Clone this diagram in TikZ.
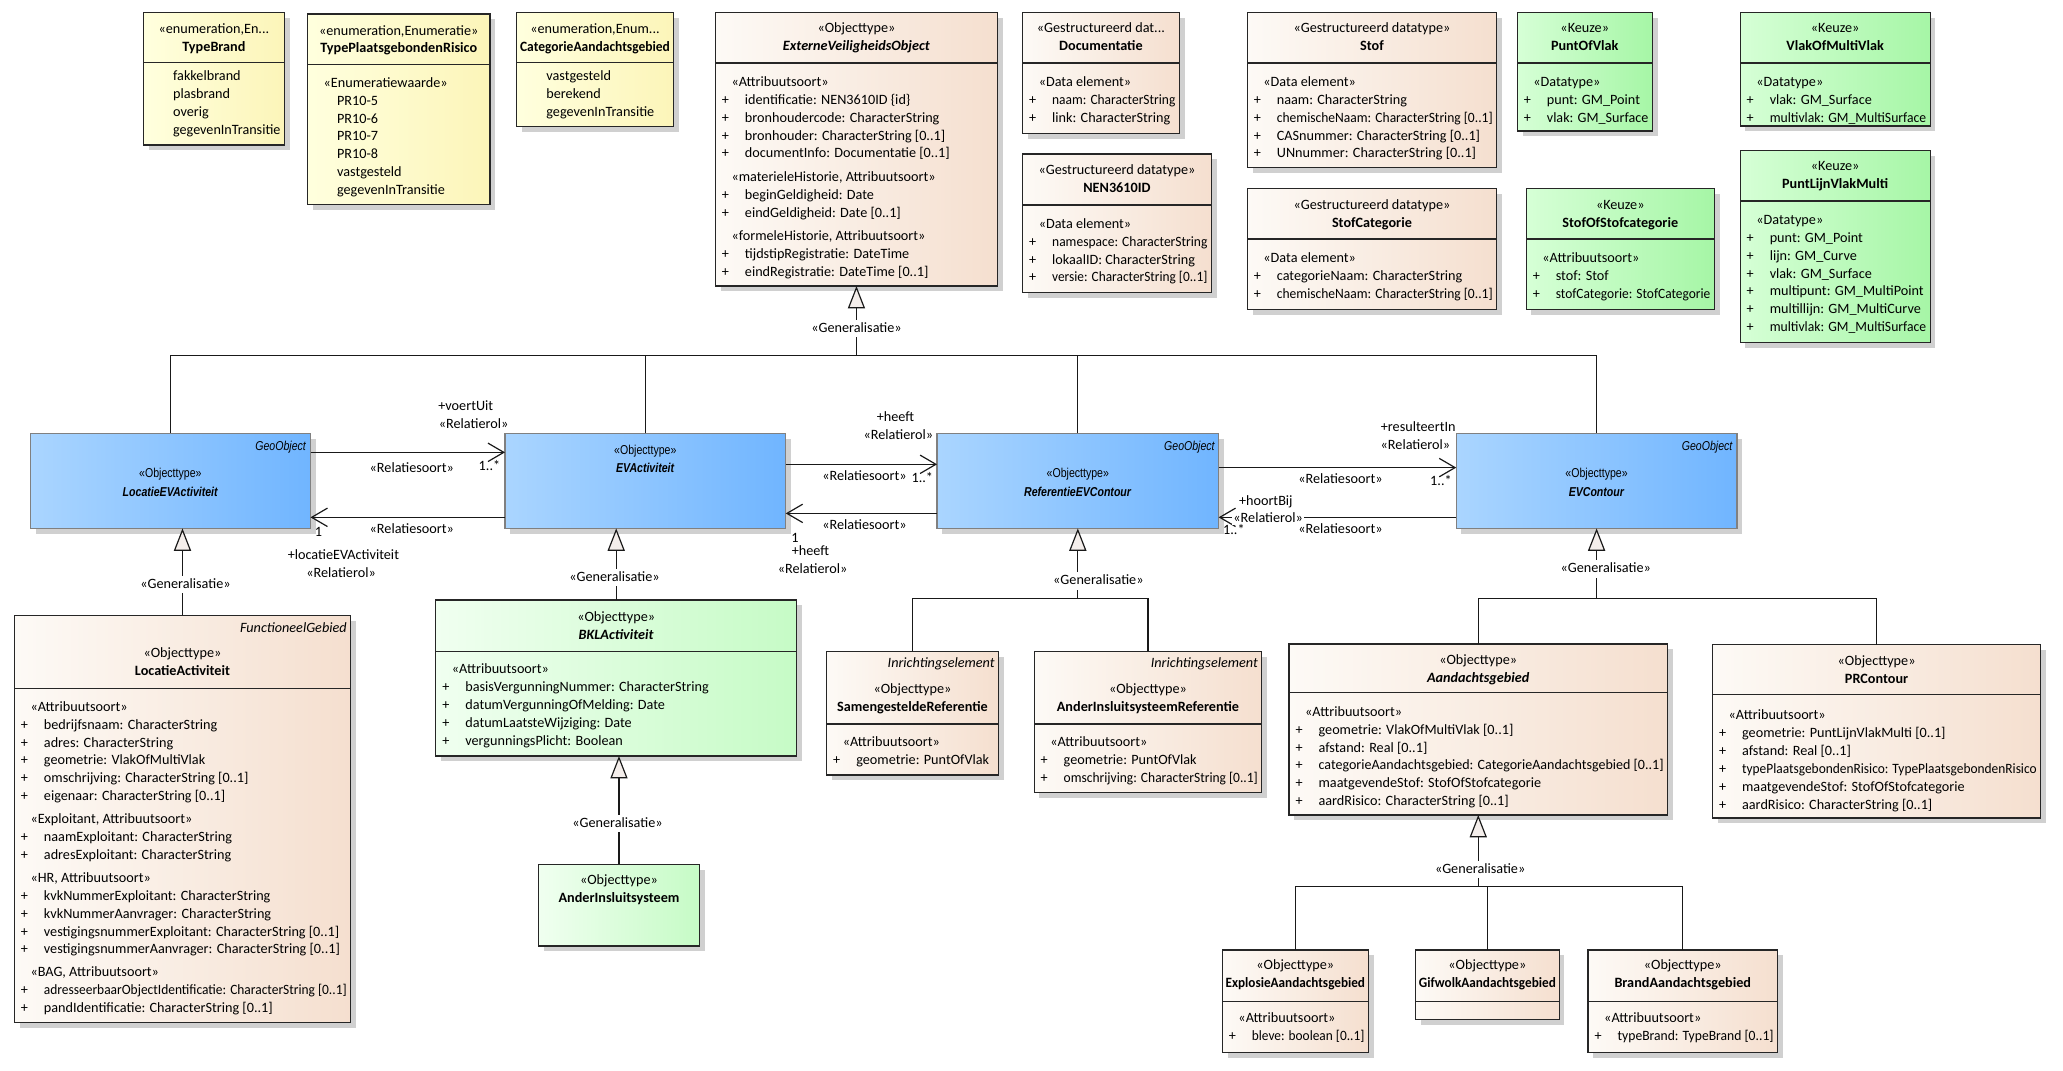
\documentclass[tikz,border=0pt]{standalone}
\usepackage{fontspec}
\setmainfont{Carlito}
\newfontfamily\narrowfont[FakeStretch=0.82]{Liberation Sans}
\usepackage{graphicx}
\usetikzlibrary{arrows.meta}

\definecolor{ylL}{RGB}{255,255,222}
\definecolor{ylR}{RGB}{252,245,185}
\definecolor{peL}{RGB}{253,250,246}
\definecolor{peR}{RGB}{245,223,207}
\definecolor{blL}{RGB}{170,213,255}
\definecolor{blR}{RGB}{112,181,255}
\definecolor{gkL}{RGB}{214,255,214}
\definecolor{gkR}{RGB}{166,246,166}
\definecolor{glL}{RGB}{240,255,240}
\definecolor{glR}{RGB}{198,251,198}
\definecolor{genfill}{RGB}{244,238,235}
\definecolor{shadowc}{RGB}{208,208,208}

\newcommand\fsz{\fontsize{10.8}{13.6}\selectfont}
\newcommand\bfsz{\narrowfont\fontsize{9.8}{14}\selectfont}
\newsavebox\fitbx
\newlength\fitw
\newlength\avail
\newcommand\fitto[2]{\setlength\fitw{#1}\sbox\fitbx{#2}\ifdim\wd\fitbx>\fitw\resizebox{\fitw}{\height}{\usebox\fitbx}\else\usebox\fitbx\fi}
\newcommand\uPl[1]{\makebox[17.5pt][l]{+}\fitto{\dimexpr\avail-17.5pt\relax}{#1}}
\newcommand\uSt[1]{\hspace*{7.3pt}\fitto{\dimexpr\avail-7.3pt\relax}{#1}}
\newcommand\uEv[1]{\hspace*{17.5pt}\fitto{\dimexpr\avail-17.5pt\relax}{#1}}
\newcommand\uHl[1]{\fitto{\avail}{#1}}

\tikzset{
  box/.style={draw=black!85, line width=0.9pt, inner sep=0pt, outer sep=0pt},
  yel/.style={box, left color=ylL, right color=ylR},
  pea/.style={box, left color=peL, right color=peR},
  blu/.style={draw=black!50, line width=0.9pt, inner sep=0pt, outer sep=0pt, left color=blL, right color=blR},
  grk/.style={box, left color=gkL, right color=gkR},
  grl/.style={box, left color=glL, right color=glR},
  sepline/.style={draw=black!85, line width=0.9pt},
  hdrtxt/.style={inner sep=0pt, outer sep=0pt, font=\fsz, align=center, anchor=north},
  cmptxt/.style={inner sep=0pt, outer sep=0pt, font=\fsz, align=left, anchor=north west},
  tagtxt/.style={inner sep=0pt, outer sep=0pt, font=\fsz, anchor=north east},
  bluetxt/.style={inner sep=0pt, outer sep=0pt, font=\bfsz, align=center, anchor=north},
  bluetag/.style={inner sep=0pt, outer sep=0pt, font=\bfsz, anchor=north east},
  lbl/.style={font=\fsz, inner sep=0pt, outer sep=0pt, text height=7.5pt, text depth=1.5pt},
  lblw/.style={lbl, fill=white, inner xsep=1pt},
  genlbl/.style={lbl, fill=white, inner xsep=1pt, inner ysep=2pt},
  conn/.style={line width=0.9pt, draw=black!90},
  assoc/.style={conn, -{Straight Barb[length=12pt,width=14pt]}},
  gen/.style={conn, -{Triangle[length=17pt,width=13pt,fill=genfill]}}
}

\newcommand\uCls[7]{%
  \fill[shadowc] ({#3+4},{#4+4}) rectangle ({#5+4},{#6+4});
  \node[#2, anchor=north west, minimum width={(#5-#3)*1pt}, minimum height={(#6-#4)*1pt}] (#1) at (#3,#4) {};
  \ifx\relax#7\relax\else\draw[sepline] (#3,#7) -- (#5,#7);\fi}
\newcommand\uHdr[5]{%
  \setlength\avail{\dimexpr #3pt-#2pt-5pt\relax}%
  \node[hdrtxt] (#1) at ({(#2+#3)/2},{#4-6.5}) {\strut #5};}
\newcommand\uCmp[5]{%
  \setlength\avail{\dimexpr #3pt-#2pt-8pt\relax}%
  \node[cmptxt] (#1) at ({#2+5},{#4-6.5}) {\strut #5};}
\newcommand\uTag[4]{\node[tagtxt] (#1) at (#2,{#3-6.5}) {\strut\textit{#4}};}

\begin{document}
\begin{tikzpicture}[x=1pt,y=-1pt]
\path[use as bounding box, fill=white] (0,0) rectangle (1568,814);

% ---------------- top row ----------------
\uCls{tb}{yel}{109.1}{9.6}{216.1}{110.2}{47.6}
\uHdr{tbh}{109.1}{216.1}{22.3}{\uHl{«enumeration,En...}\\\uHl{\textbf{TypeBrand}}}
\uCmp{tbc}{109.1}{216.1}{58.3}{\uEv{fakkelbrand}\\\uEv{plasbrand}\\\uEv{overig}\\\uEv{gegevenInTransitie}}

\uCls{tpr}{yel}{233.7}{10.6}{372.4}{155.3}{48.9}
\uHdr{tprh}{233.7}{372.4}{23.6}{\uHl{«enumeration,Enumeratie»}\\\uHl{\textbf{TypePlaatsgebondenRisico}}}
\uCmp{tprc}{233.7}{372.4}{63.3}{\uSt{«Enumeratiewaarde»}\\\uEv{PR10-5}\\\uEv{PR10-6}\\\uEv{PR10-7}\\\uEv{PR10-8}\\\uEv{vastgesteld}\\\uEv{gegevenInTransitie}}

\uCls{cat}{yel}{392.8}{9.6}{511.7}{96.3}{47.6}
\uHdr{cath}{392.8}{511.7}{22.3}{\uHl{«enumeration,Enum...}\\\uHl{\textbf{CategorieAandachtsgebied}}}
\uCmp{catc}{392.8}{511.7}{58.3}{\uEv{vastgesteld}\\\uEv{berekend}\\\uEv{gegevenInTransitie}}

\uCls{evo}{pea}{543.7}{9.4}{758.2}{217.4}{47.9}
\uHdr{evoh}{543.7}{758.2}{21.5}{\uHl{«Objecttype»}\\\uHl{\textbf{\textit{ExterneVeiligheidsObject}}}}
\uCmp{evoc}{543.7}{758.2}{62.6}{\uSt{«Attribuutsoort»}\\
\uPl{identificatie: NEN3610ID \{id\}}\\
\uPl{bronhoudercode: CharacterString}\\
\uPl{bronhouder: CharacterString [0..1]}\\
\uPl{documentInfo: Documentatie [0..1]}\\[4.2pt]
\uSt{«materieleHistorie, Attribuutsoort»}\\
\uPl{beginGeldigheid: Date}\\
\uPl{eindGeldigheid: Date [0..1]}\\[4.2pt]
\uSt{«formeleHistorie, Attribuutsoort»}\\
\uPl{tijdstipRegistratie: DateTime}\\
\uPl{eindRegistratie: DateTime [0..1]}}

\uCls{doc}{pea}{777.2}{9.4}{896.3}{101.3}{47.9}
\uHdr{doch}{777.2}{896.3}{21.5}{\uHl{«Gestructureerd dat...}\\\uHl{\textbf{Documentatie}}}
\uCmp{docc}{777.2}{896.3}{62.6}{\uSt{«Data element»}\\\uPl{naam: CharacterString}\\\uPl{link: CharacterString}}

\uCls{nen}{pea}{777.2}{117}{920.7}{222.2}{155.8}
\uHdr{nenh}{777.2}{920.7}{129.5}{\uHl{«Gestructureerd datatype»}\\\uHl{\textbf{NEN3610ID}}}
\uCmp{nenc}{777.2}{920.7}{170.5}{\uSt{«Data element»}\\\uPl{namespace: CharacterString}\\\uPl{lokaalID: CharacterString}\\\uPl{versie: CharacterString [0..1]}}

\uCls{stof}{pea}{948}{9.4}{1137.5}{127.4}{47.9}
\uHdr{stofh}{948}{1137.5}{21.5}{\uHl{«Gestructureerd datatype»}\\\uHl{\textbf{Stof}}}
\uCmp{stofc}{948}{1137.5}{62.6}{\uSt{«Data element»}\\\uPl{naam: CharacterString}\\\uPl{chemischeNaam: CharacterString [0..1]}\\\uPl{CASnummer: CharacterString [0..1]}\\\uPl{UNnummer: CharacterString [0..1]}}

\uCls{stc}{pea}{948}{143.4}{1137.5}{235.1}{181.6}
\uHdr{stch}{948}{1137.5}{156}{\uHl{«Gestructureerd datatype»}\\\uHl{\textbf{StofCategorie}}}
\uCmp{stcc}{948}{1137.5}{196.3}{\uSt{«Data element»}\\\uPl{categorieNaam: CharacterString}\\\uPl{chemischeNaam: CharacterString [0..1]}}

\uCls{pov}{grk}{1153.2}{9.4}{1255.8}{99.6}{47.9}
\uHdr{povh}{1153.2}{1255.8}{21.5}{\uHl{«Keuze»}\\\uHl{\textbf{PuntOfVlak}}}
\uCmp{povc}{1153.2}{1255.8}{62.6}{\uSt{«Datatype»}\\\uPl{punt: GM\_Point}\\\uPl{vlak: GM\_Surface}}

\uCls{sos}{grk}{1160}{143.4}{1303}{235.1}{181.6}
\uHdr{sosh}{1160}{1303}{156}{\uHl{«Keuze»}\\\uHl{\textbf{StofOfStofcategorie}}}
\uCmp{sosc}{1160}{1303}{196.3}{\uSt{«Attribuutsoort»}\\\uPl{stof: Stof}\\\uPl{stofCategorie: StofCategorie}}

\uCls{vomv}{grk}{1322.6}{9.4}{1467}{95.8}{47.9}
\uHdr{vomvh}{1322.6}{1467}{21.5}{\uHl{«Keuze»}\\\uHl{\textbf{VlakOfMultiVlak}}}
\uCmp{vomvc}{1322.6}{1467}{62.6}{\uSt{«Datatype»}\\\uPl{vlak: GM\_Surface}\\\uPl{multivlak: GM\_MultiSurface}}

\uCls{plvm}{grk}{1322.6}{114.3}{1467}{260.2}{152.8}
\uHdr{plvmh}{1322.6}{1467}{126.4}{\uHl{«Keuze»}\\\uHl{\textbf{PuntLijnVlakMulti}}}
\uCmp{plvmc}{1322.6}{1467}{167.5}{\uSt{«Datatype»}\\\uPl{punt: GM\_Point}\\\uPl{lijn: GM\_Curve}\\\uPl{vlak: GM\_Surface}\\\uPl{multipunt: GM\_MultiPoint}\\\uPl{multillijn: GM\_MultiCurve}\\\uPl{multivlak: GM\_MultiSurface}}

% ---------------- blue row ----------------
\uCls{locev}{blu}{23.1}{329.4}{236}{401.6}{}
\node[bluetag] (locevt) at (232.8,{339.5-6.8}) {\strut\textit{GeoObject}};
\node[bluetxt] (locevh) at (129.5,{360.3-6.8}) {\strut «Objecttype»\\\textbf{\textit{LocatieEVActiviteit}}};

\uCls{evact}{blu}{383.8}{329.4}{597.2}{401.6}{}
\node[bluetxt] (evacth) at (490.5,{342.5-6.8}) {\strut «Objecttype»\\\textbf{\textit{EVActiviteit}}};

\uCls{refev}{blu}{712.2}{329.4}{926.2}{401.6}{}
\node[bluetag] (refevt) at (923.5,{339.5-6.8}) {\strut\textit{GeoObject}};
\node[bluetxt] (refevh) at (819.2,{360.3-6.8}) {\strut «Objecttype»\\\textbf{\textit{ReferentieEVContour}}};

\uCls{evcont}{blu}{1106.8}{329.4}{1320.2}{401.6}{}
\node[bluetag] (evcontt) at (1317,{339.5-6.8}) {\strut\textit{GeoObject}};
\node[bluetxt] (evconth) at (1213.5,{360.3-6.8}) {\strut «Objecttype»\\\textbf{\textit{EVContour}}};

% ---------------- bottom ----------------
\uCls{locact}{pea}{10.9}{467.7}{266.5}{777}{523.2}
\uTag{locactt}{263.5}{477.6}{FunctioneelGebied}
\uHdr{locacth}{10.9}{266.5}{496.6}{\uHl{«Objecttype»}\\\uHl{\textbf{LocatieActiviteit}}}
\uCmp{locactc}{10.9}{266.5}{537.6}{\uSt{«Attribuutsoort»}\\
\uPl{bedrijfsnaam: CharacterString}\\
\uPl{adres: CharacterString}\\
\uPl{geometrie: VlakOfMultiVlak}\\
\uPl{omschrijving: CharacterString [0..1]}\\
\uPl{eigenaar: CharacterString [0..1]}\\[3.8pt]
\uSt{«Exploitant, Attribuutsoort»}\\
\uPl{naamExploitant: CharacterString}\\
\uPl{adresExploitant: CharacterString}\\[3.8pt]
\uSt{«HR, Attribuutsoort»}\\
\uPl{kvkNummerExploitant: CharacterString}\\
\uPl{kvkNummerAanvrager: CharacterString}\\
\uPl{vestigingsnummerExploitant: CharacterString [0..1]}\\
\uPl{vestigingsnummerAanvrager: CharacterString [0..1]}\\[3.8pt]
\uSt{«BAG, Attribuutsoort»}\\
\uPl{adresseerbaarObjectIdentificatie: CharacterString [0..1]}\\
\uPl{pandIdentificatie: CharacterString [0..1]}}

\uCls{bkl}{grl}{331.2}{456}{605.5}{574.6}{495}
\uHdr{bklh}{331.2}{605.5}{469.2}{\uHl{«Objecttype»}\\\uHl{\textbf{\textit{BKLActiviteit}}}}
\uCmp{bklc}{331.2}{605.5}{509.2}{\uSt{«Attribuutsoort»}\\\uPl{basisVergunningNummer: CharacterString}\\\uPl{datumVergunningOfMelding: Date}\\\uPl{datumLaatsteWijziging: Date}\\\uPl{vergunningsPlicht: Boolean}}

\uCls{ander}{grl}{409.4}{657}{531.5}{719}{}
\uHdr{anderh}{409.4}{531.5}{669.4}{\uHl{«Objecttype»}\\\uHl{\textbf{AnderInsluitsysteem}}}

\uCls{samen}{pea}{628.3}{495}{758.8}{589}{550.3}
\uTag{sament}{756}{504}{Inrichtingselement}
\uHdr{samenh}{628.3}{758.8}{523.9}{\uHl{«Objecttype»}\\\uHl{\textbf{SamengesteldeReferentie}}}
\uCmp{samenc}{628.3}{758.8}{564.5}{\uSt{«Attribuutsoort»}\\\uPl{geometrie: PuntOfVlak}}

\uCls{aref}{pea}{786}{495}{959}{602.5}{550.3}
\uTag{areft}{956}{504}{Inrichtingselement}
\uHdr{arefh}{786}{959}{523.9}{\uHl{«Objecttype»}\\\uHl{\textbf{AnderInsluitsysteemReferentie}}}
\uCmp{arefc}{786}{959}{564.5}{\uSt{«Attribuutsoort»}\\\uPl{geometrie: PuntOfVlak}\\\uPl{omschrijving: CharacterString [0..1]}}

\uCls{aand}{pea}{979.7}{489.5}{1267.4}{619.4}{526.5}
\uHdr{aandh}{979.7}{1267.4}{502}{\uHl{«Objecttype»}\\\uHl{\textbf{\textit{Aandachtsgebied}}}}
\uCmp{aandc}{979.7}{1267.4}{541.4}{\uSt{«Attribuutsoort»}\\\uPl{geometrie: VlakOfMultiVlak [0..1]}\\\uPl{afstand: Real [0..1]}\\\uPl{categorieAandachtsgebied: CategorieAandachtsgebied [0..1]}\\\uPl{maatgevendeStof: StofOfStofcategorie}\\\uPl{aardRisico: CharacterString [0..1]}}

\uCls{prc}{pea}{1301.6}{490}{1551}{621.7}{527.7}
\uHdr{prch}{1301.6}{1551}{502.6}{\uHl{«Objecttype»}\\\uHl{\textbf{PRContour}}}
\uCmp{prcc}{1301.6}{1551}{544.2}{\uSt{«Attribuutsoort»}\\\uPl{geometrie: PuntLijnVlakMulti [0..1]}\\\uPl{afstand: Real [0..1]}\\\uPl{typePlaatsgebondenRisico: TypePlaatsgebondenRisico}\\\uPl{maatgevendeStof: StofOfStofcategorie}\\\uPl{aardRisico: CharacterString [0..1]}}

\uCls{expl}{pea}{929}{722}{1040}{800}{761}
\uHdr{explh}{929}{1040}{734}{\uHl{«Objecttype»}\\\uHl{\textbf{ExplosieAandachtsgebied}}}
\uCmp{explc}{929}{1040}{774}{\uSt{«Attribuutsoort»}\\\uPl{bleve: boolean [0..1]}}

\uCls{gif}{pea}{1076}{722}{1185}{775}{761}
\uHdr{gifh}{1076}{1185}{734}{\uHl{«Objecttype»}\\\uHl{\textbf{GifwolkAandachtsgebied}}}

\uCls{brand}{pea}{1207}{722}{1351}{800}{761}
\uHdr{brandh}{1207}{1351}{734}{\uHl{«Objecttype»}\\\uHl{\textbf{BrandAandachtsgebied}}}
\uCmp{brandc}{1207}{1351}{774}{\uSt{«Attribuutsoort»}\\\uPl{typeBrand: TypeBrand [0..1]}}

% ---------------- generalisations ----------------
\draw[conn] (locev.north) -- (locev.north |- 0,270) -- (evcont.north |- 0,270) -- (evcont.north);
\draw[conn] (evact.north) -- (evact.north |- 0,270);
\draw[conn] (refev.north) -- (refev.north |- 0,270);
\draw[gen] (evo.south |- 0,270) -- (evo.south);
\node[genlbl] (g1) at (651,250) {«Generalisatie»};

\draw[gen] (locact.north) -- (locact.north |- locev.south);
\node[genlbl] (g2) at (141,444) {«Generalisatie»};

\draw[gen] (bkl.north) -- (bkl.north |- evact.south);
\node[genlbl] (g3) at (467,439) {«Generalisatie»};

\draw[gen] (ander.north) -- (ander.north |- bkl.south);
\node[genlbl] (g4) at (469.3,625.8) {«Generalisatie»};

\draw[conn] (samen.north) -- (samen.north |- 0,454.8) -- (aref.north |- 0,454.8) -- (aref.north);
\draw[gen] (refev.south |- 0,454.8) -- (refev.south);
\node[genlbl] (g5) at (834.8,441.6) {«Generalisatie»};

\draw[conn] (aand.north) -- (aand.north |- 0,454.8) -- (prc.north |- 0,454.8) -- (prc.north);
\draw[gen] (evcont.south |- 0,454.8) -- (evcont.south);
\node[genlbl] (g6) at (1220.4,432.5) {«Generalisatie»};

\draw[conn] (expl.north) -- (expl.north |- 0,674) -- (brand.north |- 0,674) -- (brand.north);
\draw[conn] (gif.north) -- (gif.north |- 0,674);
\draw[gen] (aand.south |- 0,674) -- (aand.south);
\node[genlbl] (g7) at (1125,661) {«Generalisatie»};

% ---------------- associations ----------------
\draw[assoc] (locev.east |- 0,343.8) -- (evact.west |- 0,343.8);
\draw[assoc] (evact.west |- 0,393.2) -- (locev.east |- 0,393.2);
\draw[assoc] (evact.east |- 0,352.9) -- (refev.west |- 0,352.9);
\draw[assoc] (refev.west |- 0,390.2) -- (evact.east |- 0,390.2);
\draw[assoc] (refev.east |- 0,355.4) -- (evcont.west |- 0,355.4);
\draw[assoc] (evcont.west |- 0,393.2) -- (refev.east |- 0,393.2);

\node[lbl] (l1) at (354,309) {+voertUit};
\node[lbl] (l2) at (360,322.5) {«Relatierol»};
\node[lbl] (l3) at (313,356.5) {«Relatiesoort»};
\node[lbl] (l4) at (372,354.7) {1..*};
\node[lbl] (l5) at (242,404.9) {1};
\node[lbl] (l6) at (313,402.8) {«Relatiesoort»};
\node[lbl] (l7) at (261,422.1) {+locatieEVActiviteit};
\node[lbl] (l8) at (259.2,435.8) {«Relatierol»};

\node[lbl] (l9) at (680.6,317.2) {+heeft};
\node[lbl] (l10) at (682.8,331.1) {«Relatierol»};
\node[lbl] (l11) at (657.1,362.5) {«Relatiesoort»};
\node[lbl] (l12) at (701,364) {1..*};
\node[lbl] (l13) at (657.1,399.5) {«Relatiesoort»};
\node[lbl] (l14) at (604.2,409.2) {1};
\node[lbl] (l15) at (616,419.3) {+heeft};
\node[lbl] (l16) at (617.6,432.7) {«Relatierol»};

\node[lbl] (l17) at (1077.9,325) {+resulteertIn};
\node[lbl] (l18) at (1075.8,339) {«Relatierol»};
\node[lbl] (l19) at (1018.8,364.3) {«Relatiesoort»};
\node[lbl] (l20) at (1095.2,366.3) {1..*};
\node[lbl] (l21) at (962.1,381.3) {+hoortBij};
\node[lblw] (l22) at (963.9,394.2) {«Relatierol»};
\node[lbl] (l23) at (937.8,403.3) {1..*};
\node[lbl] (l24) at (1018.8,402.3) {«Relatiesoort»};
\end{tikzpicture}
\end{document}
